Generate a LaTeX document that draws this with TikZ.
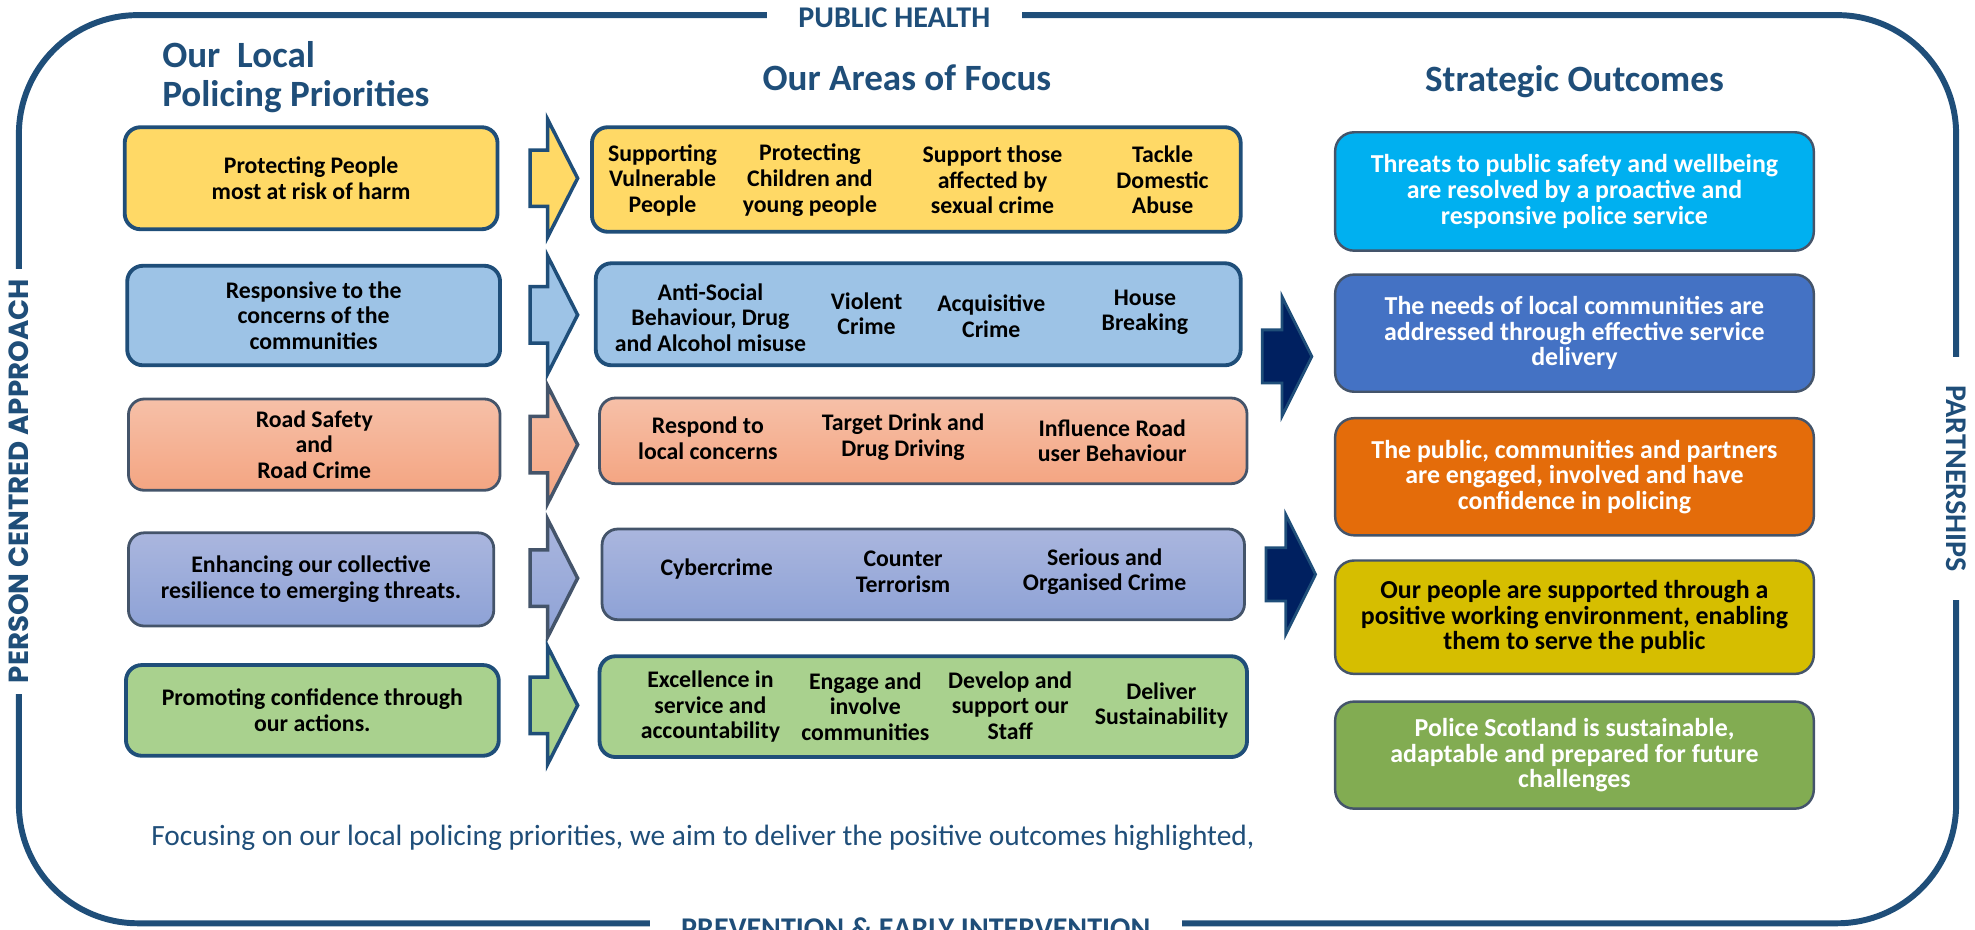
\documentclass[tikz,border=0pt]{standalone}
\usepackage{fontspec}
\setmainfont{Carlito}
\newfontfamily\sidefont{Poppins}
\usetikzlibrary{shapes.arrows}

\definecolor{frameblue}{RGB}{31,78,121}
\definecolor{edgegrey}{RGB}{68,84,106}
\definecolor{navyarrow}{RGB}{0,32,96}
\definecolor{prioyellow}{RGB}{255,217,102}
\definecolor{prioblue}{RGB}{157,195,230}
\definecolor{salmontop}{RGB}{246,192,168}
\definecolor{salmonbot}{RGB}{244,165,130}
\definecolor{periwtop}{RGB}{170,182,222}
\definecolor{periwbot}{RGB}{142,162,214}
\definecolor{priogreen}{RGB}{169,209,142}
\definecolor{outcyan}{RGB}{0,176,240}
\definecolor{outblue}{RGB}{68,114,196}
\definecolor{outorange}{RGB}{228,108,10}
\definecolor{outolive}{RGB}{214,190,0}
\definecolor{outgreen}{RGB}{130,172,82}

\tikzset{
  boxsize/.style 2 args={minimum width=#1*0.36pt, minimum height=#2*0.36pt},
  frame/.style={draw=frameblue, line width=1.7pt, rounded corners=34pt},
  framelabel/.style={fill=white, text=frameblue, inner xsep=9pt, inner ysep=1pt,
    font=\bfseries\fontsize{8.6}{9}\selectfont},
  sidelabel/.style={fill=white, text=frameblue, inner xsep=3pt, inner ysep=1pt,
    font=\sidefont\bfseries\fontsize{7.9}{8}\selectfont},
  header/.style={text=frameblue, font=\bfseries\fontsize{10.6}{11.2}\selectfont},
  prio/.style={draw=frameblue, line width=1.1pt, rounded corners=4.5pt, align=center,
    font=\bfseries\fontsize{6.8}{7.3}\selectfont},
  priolight/.style={prio, draw=edgegrey, line width=0.8pt},
  item/.style={align=center, inner sep=0pt, font=\bfseries\fontsize{6.8}{7.3}\selectfont},
  outcome/.style={draw=edgegrey, line width=0.7pt, rounded corners=5.4pt, align=center,
    text=white, font=\bfseries\fontsize{7.4}{7.3}\selectfont},
  sarrow/.style={single arrow, draw=frameblue, line width=1pt, inner xsep=0pt, inner ysep=7.55pt,
    minimum height=13.6pt, minimum width=0pt,
    single arrow head extend=8.8pt, single arrow tip angle=126},
  bigarrow/.style={single arrow, fill=navyarrow, draw=frameblue, line width=0.8pt,
    inner xsep=0pt, inner ysep=7.2pt, minimum height=14.2pt, minimum width=0pt,
    single arrow head extend=9.5pt, single arrow tip angle=127},
  footer/.style={text=frameblue, font=\fontsize{8.4}{9}\selectfont}
}

\begin{document}
\begin{tikzpicture}[x=0.36pt, y=-0.36pt]
\useasboundingbox (0,0) rectangle (1568,738);

\draw[frame] (15,12) rectangle (1553,733);
\node[framelabel] (health) at (710,14) {PUBLIC HEALTH};
\node[framelabel] (prevention) at (727,737) {PREVENTION \& EARLY INTERVENTION};
\node[sidelabel, rotate=90] (person) at (15,382) {PERSON CENTRED APPROACH};
\node[framelabel, rotate=-90, inner xsep=8pt] (partners) at (1553,380) {PARTNERSHIPS};

\node[header, align=left, anchor=west] (hprio) at (119,61) {Our\ \ Local\\Policing Priorities};
\node[header] (hfocus) at (720,62) {Our Areas of Focus};
\node[header] (houtcome) at (1250,65) {Strategic Outcomes};

\node[prio, fill=prioyellow, boxsize={296}{81}] (p1) at (247,141.5) {Protecting People\\most at risk of harm};
\node[prio, fill=prioblue, boxsize={296}{79}] (p2) at (249,250.5) {Responsive to the\\concerns of the\\communities};
\node[priolight, top color=salmontop, bottom color=salmonbot, boxsize={295}{68}] (p3) at (249.5,353) {Road Safety\\and\\Road Crime};
\node[priolight, top color=periwtop, bottom color=periwbot, boxsize={290}{74}] (p4) at (247,460) {Enhancing our collective\\resilience to emerging threats.};
\node[prio, fill=priogreen, boxsize={296}{72}] (p5) at (248,564) {Promoting confidence through\\our actions.};

\node[sarrow, fill=prioyellow] (a1) at (434,141.5) {};
\node[sarrow, fill=prioblue] (a2) at (434,250) {};
\node[sarrow, draw=edgegrey, top color=salmontop, bottom color=salmonbot] (a3) at (434,353) {};
\node[sarrow, draw=edgegrey, top color=periwtop, bottom color=periwbot] (a4) at (434,459) {};
\node[sarrow, fill=priogreen] (a5) at (434,560) {};

\node[prio, fill=prioyellow, boxsize={515}{83}] (f1) at (727.5,142.5) {};
\node[item] (f1a) at (526,143) {Supporting\\Vulnerable\\People};
\node[item] (f1b) at (643,143) {Protecting\\Children and\\young people};
\node[item] (f1c) at (788,143) {Support those\\affected by\\sexual crime};
\node[item] (f1d) at (923,143) {Tackle\\Domestic\\Abuse};

\node[prio, fill=prioblue, boxsize={512}{81}] (f2) at (729,249.5) {};
\node[item] (f2a) at (564,252) {Anti-Social\\Behaviour, Drug\\and Alcohol misuse};
\node[item] (f2b) at (688,249) {Violent\\Crime};
\node[item] (f2c) at (787,251) {Acquisitive\\Crime};
\node[item] (f2d) at (909,248) {House\\Breaking};

\node[priolight, top color=salmontop, bottom color=salmonbot, boxsize={514}{68}] (f3) at (733,350) {};
\node[item] (f3a) at (562,348) {Respond to\\local concerns};
\node[item] (f3b) at (717,347) {Target Drink and\\Drug Driving};
\node[item] (f3c) at (883,350) {Influence Road\\user Behaviour};

\node[priolight, top color=periwtop, bottom color=periwbot, boxsize={510}{72}] (f4) at (733,456) {};
\node[item] (f4a) at (569,452) {Cybercrime};
\node[item] (f4b) at (717,454) {Counter\\Terrorism};
\node[item] (f4c) at (877,454) {Serious and\\Organised Crime};

\node[prio, fill=priogreen, boxsize={514}{80}] (f5) at (733,561) {};
\node[item] (f5a) at (564,561) {Excellence in\\service and\\accountability};
\node[item] (f5b) at (687,561) {Engage and\\involve\\communities};
\node[item] (f5c) at (802,560) {Develop and\\support our\\Staff};
\node[item] (f5d) at (922,560) {Deliver\\Sustainability};

\node[bigarrow] (n1) at (1016.5,283) {};
\node[bigarrow] (n2) at (1019.5,456) {};

\node[outcome, fill=outcyan, boxsize={380}{94}] (o1) at (1250,152) {Threats to public safety and wellbeing\\are resolved by a proactive and\\responsive police service};
\node[outcome, fill=outblue, boxsize={380}{93}] (o2) at (1250,264.5) {The needs of local communities are\\addressed through effective service\\delivery};
\node[outcome, fill=outorange, boxsize={380}{93}] (o3) at (1250,378.5) {The public, communities and partners\\are engaged, involved and have\\confidence in policing};
\node[outcome, fill=outolive, text=black, boxsize={380}{90}] (o4) at (1250,490) {Our people are supported through a\\positive working environment, enabling\\them to serve the public};
\node[outcome, fill=outgreen, boxsize={380}{85}] (o5) at (1250,599.5) {Police Scotland is sustainable,\\adaptable and prepared for future\\challenges};

\node[footer] (foot) at (558,665) {Focusing on our local policing priorities, we aim to deliver the positive outcomes highlighted,};
\end{tikzpicture}
\end{document}
